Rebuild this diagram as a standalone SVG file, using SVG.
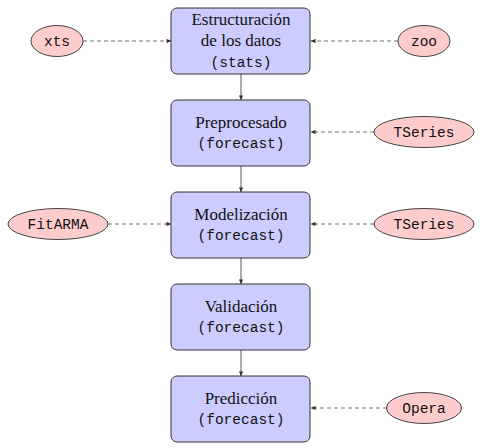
<svg xmlns="http://www.w3.org/2000/svg" width="483" height="448" viewBox="0 0 483 448">
<defs>
<marker id="ah" viewBox="0 0 6 6" refX="5.5" refY="3" markerWidth="5" markerHeight="5" markerUnits="userSpaceOnUse" orient="auto">
<path d="M0,0.5 L6,3 L0,5.5 Z" fill="#333"/>
</marker>
<style>
.box{fill:#ccccff;stroke:#333;stroke-width:1}
.ell{fill:#ffcccc;stroke:#444;stroke-width:1}
.rm{font-family:"Liberation Serif","DejaVu Serif",serif;font-size:17px;fill:#111;text-anchor:middle}
.tt{font-family:"Liberation Mono","DejaVu Sans Mono",monospace;font-size:14.5px;fill:#111;text-anchor:middle}
.solid{stroke:#808080;stroke-width:1.3;fill:none}
.dash{stroke:#707070;stroke-width:1;stroke-dasharray:4 3;fill:none}
</style>
</defs>
<rect width="483" height="448" fill="#fff"/>
<g id="connectors">
<line class="solid" x1="241" y1="74" x2="241" y2="100" marker-end="url(#ah)"/>
<line class="solid" x1="241" y1="166" x2="241" y2="192" marker-end="url(#ah)"/>
<line class="solid" x1="241" y1="258" x2="241" y2="284" marker-end="url(#ah)"/>
<line class="solid" x1="241" y1="350" x2="241" y2="376" marker-end="url(#ah)"/>
<line class="dash" x1="83" y1="41" x2="171" y2="41" marker-end="url(#ah)"/>
<line class="dash" x1="398" y1="41" x2="311" y2="41" marker-end="url(#ah)"/>
<line class="dash" x1="374" y1="132" x2="311" y2="132" marker-end="url(#ah)"/>
<line class="dash" x1="108" y1="224" x2="171" y2="224" marker-end="url(#ah)"/>
<line class="dash" x1="374" y1="224" x2="311" y2="224" marker-end="url(#ah)"/>
<line class="dash" x1="387" y1="408" x2="311" y2="408" marker-end="url(#ah)"/>
</g>
<g id="n-estructuracion">
<rect class="box" x="171" y="8" width="139" height="66" rx="6"/>
<text class="rm" x="241" y="25">Estructuración</text>
<text class="rm" x="241" y="46">de los datos</text>
<text class="tt" x="241" y="67">(stats)</text>
</g>
<g id="n-preprocesado">
<rect class="box" x="171" y="100" width="139" height="66" rx="6"/>
<text class="rm" x="241" y="128">Preprocesado</text>
<text class="tt" x="241" y="148">(forecast)</text>
</g>
<g id="n-modelizacion">
<rect class="box" x="171" y="192" width="139" height="66" rx="6"/>
<text class="rm" x="241" y="220">Modelización</text>
<text class="tt" x="241" y="240">(forecast)</text>
</g>
<g id="n-validacion">
<rect class="box" x="171" y="284" width="139" height="66" rx="6"/>
<text class="rm" x="241" y="312">Validación</text>
<text class="tt" x="241" y="332">(forecast)</text>
</g>
<g id="n-prediccion">
<rect class="box" x="171" y="376" width="139" height="66" rx="6"/>
<text class="rm" x="241" y="404">Predicción</text>
<text class="tt" x="241" y="424">(forecast)</text>
</g>
<g id="n-xts">
<ellipse class="ell" cx="57" cy="41" rx="26" ry="15.5"/>
<text class="tt" x="57" y="46">xts</text>
</g>
<g id="n-zoo">
<ellipse class="ell" cx="424" cy="41" rx="26" ry="15.5"/>
<text class="tt" x="424" y="46">zoo</text>
</g>
<g id="n-tseries1">
<ellipse class="ell" cx="424" cy="132" rx="50" ry="15.5"/>
<text class="tt" x="424" y="137">TSeries</text>
</g>
<g id="n-fitarma">
<ellipse class="ell" cx="58" cy="224" rx="50" ry="15.5"/>
<text class="tt" x="58" y="229">FitARMA</text>
</g>
<g id="n-tseries2">
<ellipse class="ell" cx="424" cy="224" rx="50" ry="15.5"/>
<text class="tt" x="424" y="229">TSeries</text>
</g>
<g id="n-opera">
<ellipse class="ell" cx="424" cy="408" rx="37.5" ry="15.5"/>
<text class="tt" x="424" y="413">Opera</text>
</g>
</svg>
